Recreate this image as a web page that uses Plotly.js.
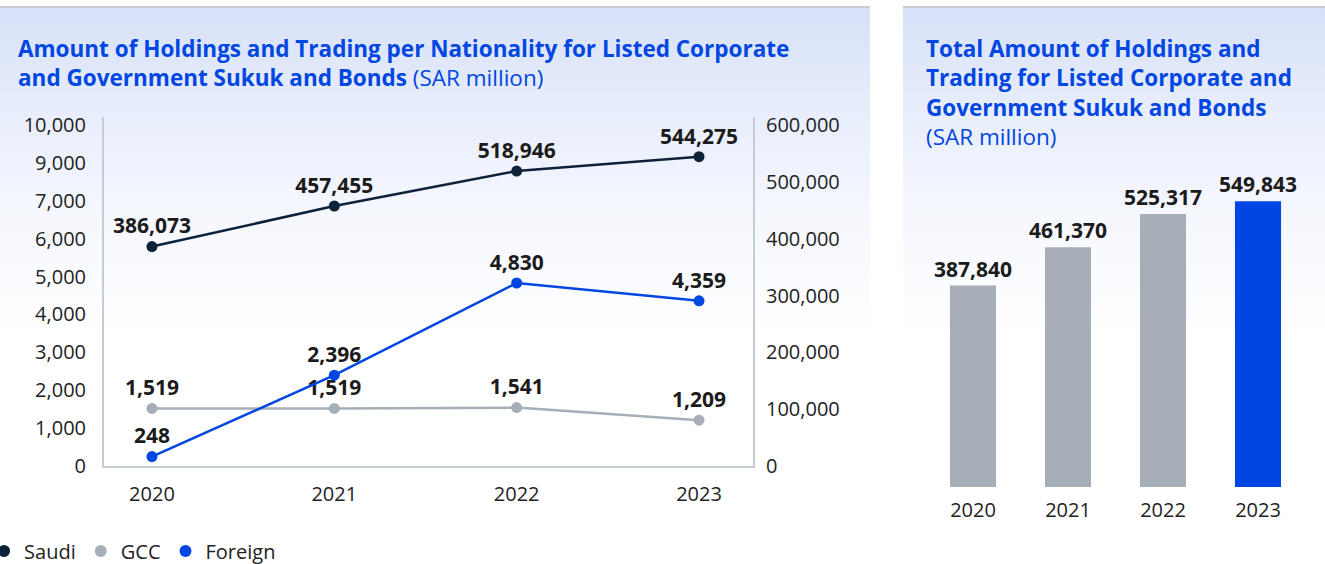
<!DOCTYPE html>
<html>
<head>
<meta charset="utf-8">
<script src="https://cdn.plot.ly/plotly-3.0.1.min.js"></script>
<style>
  html, body { margin: 0; padding: 0; background: #ffffff; }
  #wrap { position: relative; width: 1325px; height: 564px; overflow: hidden; }
  .panel { position: absolute; top: 6px; height: 340px; border-top: 2px solid #c9cdd3;
           background: linear-gradient(to bottom, #d6e0f8 0px, #e6ecfb 90px, #f5f7fe 200px, #ffffff 330px); }
  #p1 { left: 0px; width: 870px; }
  #p2 { left: 903px; width: 422px; }
  #chart { position: absolute; left: 0; top: 0; width: 1325px; height: 564px; }
</style>
</head>
<body>
<div id="wrap">
  <div class="panel" id="p1"></div>
  <div class="panel" id="p2"></div>
  <div id="chart"></div>
</div>
<script>
// ---- data ----
const years = ['2020', '2021', '2022', '2023'];
const saudi = [386073, 457455, 518946, 544275];
const gcc = [1519, 1519, 1541, 1209];
const foreign = [248, 2396, 4830, 4359];
const totals = [387840, 461370, 525317, 549843];
const leftTickVals = [0, 1000, 2000, 3000, 4000, 5000, 6000, 7000, 8000, 9000];
const leftTickText = ['0', '1,000', '2,000', '3,000', '4,000', '5,000', '6,000', '7,000', '9,000', '10,000'];
const rightTickVals = [0, 100000, 200000, 300000, 400000, 500000, 600000];
const seriesNames = ['Saudi', 'GCC', 'Foreign'];
const leftTitle = '<b>Amount of Holdings and Trading per Nationality for Listed Corporate<br>' +
                  'and Government Sukuk and Bonds</b> (SAR million)';
const rightTitle = '<b>Total Amount of Holdings and<br>Trading for Listed Corporate and<br>' +
                   'Government Sukuk and Bonds</b><br>(SAR million)';

// ---- styles ----
const W = 1325, H = 564;
const C_SAUDI = '#0b2239', C_GCC = '#a6afb8', C_FOREIGN = '#0046e2';
const FONT = '"Open Sans", Lato, sans-serif';
const px = v => v / W;
const py = v => 1 - v / H;

const labelFont = { family: FONT, size: 21, color: '#1b1b1b' };

function lineTrace(name, y, color, axis) {
  return {
    type: 'scatter', mode: 'lines+markers+text', x: years, y: y, name: name,
    xaxis: 'x', yaxis: axis,
    line: { color: color, width: 2.5 },
    marker: { color: color, size: 11 },
    texttemplate: '<b>%{y:,}</b>', textposition: 'top center',
    textfont: labelFont, showlegend: false, cliponaxis: false, hoverinfo: 'skip'
  };
}

const traces = [
  lineTrace(seriesNames[1], gcc, C_GCC, 'y'),
  lineTrace(seriesNames[2], foreign, C_FOREIGN, 'y'),
  lineTrace(seriesNames[0], saudi, C_SAUDI, 'y2'),
  {
    type: 'bar', x: years, y: totals, xaxis: 'x3', yaxis: 'y3',
    marker: { color: [C_GCC, C_GCC, C_GCC, '#0046e2'] },
    texttemplate: '<b>%{y:,}</b>', textposition: 'outside', textfont: labelFont,
    constraintext: 'none', cliponaxis: false, showlegend: false, hoverinfo: 'skip'
  }
];
// legend stand-ins (markers only)
[[seriesNames[0], C_SAUDI], [seriesNames[1], C_GCC], [seriesNames[2], C_FOREIGN]].forEach(([n, c]) => {
  traces.push({ type: 'scatter', mode: 'markers', x: [null], y: [null], name: n,
    xaxis: 'x', yaxis: 'y', marker: { color: c, size: 12 }, showlegend: true, hoverinfo: 'skip' });
});

const tickFont = { family: FONT, size: 20, color: '#222222' };
const axLine = '#c6ccd3';
const titleFont = { family: FONT, size: 22.5, color: '#0046e2' };

const layout = {
  width: W, height: H,
  margin: { l: 0, r: 0, t: 0, b: 0, pad: 0, autoexpand: false },
  paper_bgcolor: 'rgba(0,0,0,0)', plot_bgcolor: 'rgba(0,0,0,0)',
  font: { family: FONT, color: '#222222' },
  showlegend: true,
  legend: { orientation: 'h', x: -0.012, xanchor: 'left', y: py(551), yanchor: 'middle',
            font: { family: FONT, size: 20, color: '#222222' }, bgcolor: 'rgba(0,0,0,0)',
            itemwidth: 30, tracegroupgap: 0 },
  xaxis: { domain: [px(104), px(753)], type: 'category', range: [-0.263, 3.296],
           showline: true, linecolor: axLine, linewidth: 2, mirror: false, showgrid: false,
           ticks: '', tickfont: tickFont, anchor: 'y', zeroline: false, automargin: false,
           ticklabelstandoff: 9 },
  yaxis: { domain: [py(466), py(117)], range: [0, 9000 * 349 / 341],
           tickvals: leftTickVals, ticktext: leftTickText, tickfont: tickFont,
           showline: true, linecolor: axLine, linewidth: 2, showgrid: false, zeroline: false,
           ticks: '', ticklabelstandoff: 12, anchor: 'x', automargin: false },
  yaxis2: { domain: [py(466), py(117)], range: [0, 600000 * 349 / 341], overlaying: 'y', side: 'right',
            tickvals: rightTickVals, tickformat: ',d',
            tickfont: tickFont, showline: true, linecolor: axLine, linewidth: 2, showgrid: false,
            zeroline: false, ticks: '', ticklabelstandoff: 7, anchor: 'x', automargin: false },
  xaxis3: { domain: [px(925.5), px(1305.5)], type: 'category', range: [-0.5, 3.5], anchor: 'y3',
            showline: false, showgrid: false, ticks: '', tickfont: tickFont, zeroline: false,
            ticklabelstandoff: 9, automargin: false },
  yaxis3: { domain: [py(487), py(150)], range: [0, 337 * 1925], anchor: 'x3', visible: false },
  bargap: 0.515,
  annotations: [
    { xref: 'paper', yref: 'paper', x: px(16), y: py(31), xanchor: 'left', yanchor: 'top', align: 'left',
      showarrow: false, font: titleFont, text: leftTitle },
    { xref: 'paper', yref: 'paper', x: px(924), y: py(31), xanchor: 'left', yanchor: 'top', align: 'left',
      showarrow: false, font: titleFont, text: rightTitle }
  ]
};

Plotly.newPlot('chart', traces, layout, { staticPlot: true, displayModeBar: false });
</script>
</body>
</html>
